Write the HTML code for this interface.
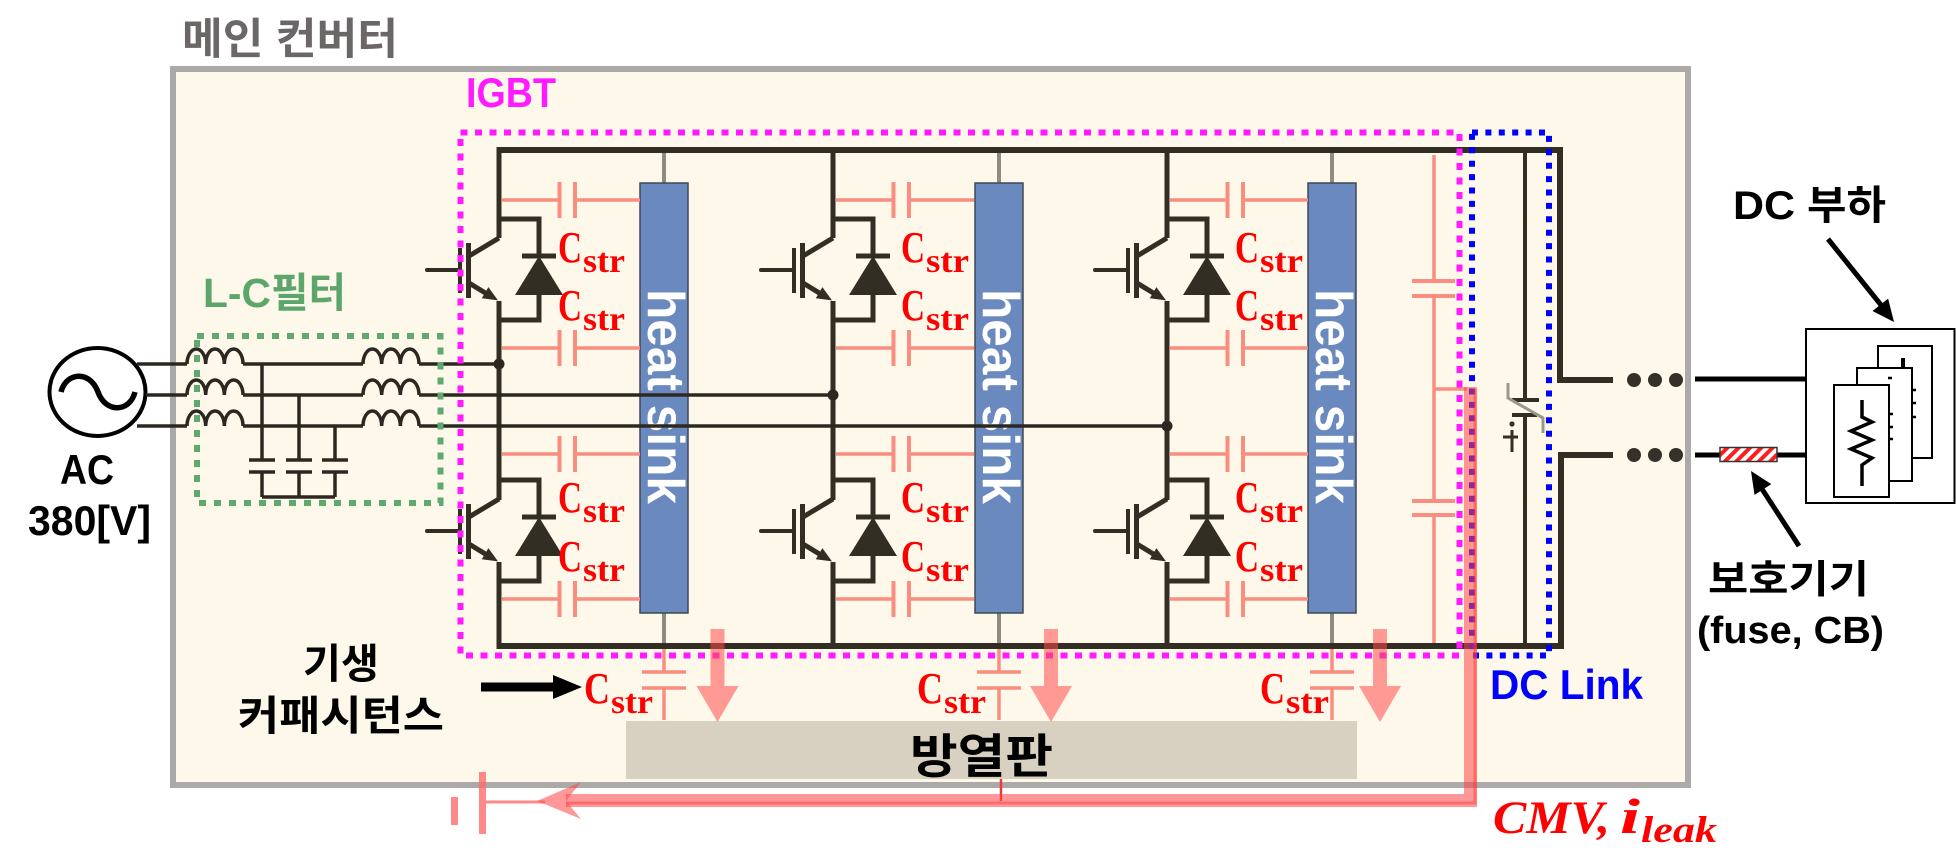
<!DOCTYPE html>
<html><head><meta charset="utf-8"><style>
html,body{margin:0;padding:0;background:#fff;}
svg{display:block;}
.k{font-family:"Liberation Sans","Noto Sans CJK KR",sans-serif;font-weight:bold;}
.s{font-family:"Liberation Serif",serif;font-weight:bold;fill:#ff0000;}
</style></head><body>
<svg width="1956" height="856" viewBox="0 0 1956 856" xmlns="http://www.w3.org/2000/svg">
<defs>
<pattern id="hatch" patternUnits="userSpaceOnUse" width="8" height="8" patternTransform="rotate(45)">
<rect width="8" height="8" fill="#fff"/><rect width="4" height="8" fill="#ff1e1e"/>
</pattern>
<g id="igbt">
  <path d="M0,219 H40 V256 M40,295 V320 H0" stroke="#332e24" stroke-width="5" fill="none"/>
  <path d="M0,238 L-30,256 M-30,283 L-12,294" stroke="#332e24" stroke-width="5" fill="none"/>
  <path d="M-30.5,243 V298" stroke="#332e24" stroke-width="5"/>
  <path d="M-39,248 V293" stroke="#332e24" stroke-width="4"/>
  <path d="M-72,270 H-39" stroke="#332e24" stroke-width="4" stroke-linecap="round"/>
  <path d="M23,256 H57" stroke="#332e24" stroke-width="5"/>
  <polygon points="40,256 16,295 64,295" fill="#332e24"/>
  <polygon points="-1,300.4 -17.2,298.3 -10.6,287.1" fill="#332e24"/>
</g>
<g id="caps" fill="none" stroke="#f98e80">
  <path d="M3,200 H59 M78,200 H141 M3,348 H59 M78,348 H141 M3,454 H59 M78,454 H141 M3,599 H59 M78,599 H141" stroke-width="3.5"/>
  <path d="M60.5,182 V218 M76,182 V218 M60.5,330 V366 M76,330 V366 M60.5,436 V472 M76,436 V472 M60.5,581 V617 M76,581 V617" stroke-width="4"/>
</g>
<g id="hs">
  <path d="M165,153 V183 M165,613 V643" stroke="#8e8b80" stroke-width="4"/>
  <rect x="141" y="183" width="48" height="430" fill="#6a8abf" stroke="#404855" stroke-width="1.5"/>
  <path d="M165,649 V672 M143,672 H187 M143,688 H187 M165,688 V720" stroke="#f98e80" stroke-width="3.5" fill="none"/>
</g>
<g id="leg">
  <path d="M0,150 V238 M0,301 V500 M0,562 V646" stroke="#332e24" stroke-width="5" fill="none"/>
  <use href="#igbt"/>
  <use href="#igbt" transform="translate(0,261)"/>
</g>
</defs>

<rect width="1956" height="856" fill="#fff"/>

<!-- title -->
<text class="k" x="182" y="54" font-size="43" fill="#6b6767" textLength="216" lengthAdjust="spacingAndGlyphs">메인 컨버터</text>

<!-- outer box -->
<rect x="173" y="69" width="1515" height="716" fill="#fdf8ea" stroke="#aca9a9" stroke-width="6"/>

<!-- heat spreader plate -->
<rect x="626" y="721" width="731" height="58" fill="#d8d1c1"/>
<text class="k" x="910" y="773" font-size="47" fill="#000" textLength="143" lengthAdjust="spacingAndGlyphs">방열판</text>

<!-- heat sinks -->
<use href="#hs" transform="translate(499,0)"/>
<use href="#hs" transform="translate(834,0)"/>
<use href="#hs" transform="translate(1167,0)"/>
<text transform="translate(648,289) rotate(90)" font-family="Liberation Sans,sans-serif" font-weight="bold" font-size="52" fill="#fff" textLength="215" lengthAdjust="spacingAndGlyphs">heat sink</text>
<text transform="translate(983,289) rotate(90)" font-family="Liberation Sans,sans-serif" font-weight="bold" font-size="52" fill="#fff" textLength="215" lengthAdjust="spacingAndGlyphs">heat sink</text>
<text transform="translate(1316,289) rotate(90)" font-family="Liberation Sans,sans-serif" font-weight="bold" font-size="52" fill="#fff" textLength="215" lengthAdjust="spacingAndGlyphs">heat sink</text>

<!-- parasitic caps per leg -->
<use href="#caps" transform="translate(499,0)"/>
<use href="#caps" transform="translate(833,0)"/>
<use href="#caps" transform="translate(1167,0)"/>

<!-- DC side salmon caps -->
<g fill="none" stroke="#f98e80">
  <path d="M1434,155 V281 M1434,296 V501 M1434,515 V643 M1434,389 H1467" stroke-width="3.5"/>
  <path d="M1412,281 H1455 M1412,296 H1455 M1412,501 H1455 M1412,515 H1455" stroke-width="4"/>
</g>

<!-- buses -->
<path d="M496.5,150 H1560 V380 H1613" stroke="#332e24" stroke-width="6" fill="none"/>
<path d="M496.5,646 H1561 V455 H1613" stroke="#332e24" stroke-width="6" fill="none"/>

<!-- legs -->
<use href="#leg" transform="translate(499,0)"/>
<use href="#leg" transform="translate(833,0)"/>
<use href="#leg" transform="translate(1167,0)"/>

<!-- DC link capacitor -->
<path d="M1525,150 V400 M1525,415 V646" stroke="#332e24" stroke-width="4" fill="none"/>
<path d="M1512,400 H1539 M1512,415 H1537" stroke="#332e24" stroke-width="4"/>
<path d="M1508,383 V398 L1543,418 V433" stroke="#9a978f" stroke-width="3" fill="none"/>
<circle cx="1512" cy="424" r="2.6" fill="#332e24"/>
<path d="M1512,430 V452 M1503,437 H1518" stroke="#332e24" stroke-width="3"/>

<!-- AC source -->
<ellipse cx="97.5" cy="392" rx="48" ry="44" fill="#fff" stroke="#000" stroke-width="4"/>
<path d="M61,392 C66,372 90,370 98,392 C106,414 130,412 135,392" stroke="#000" stroke-width="5.5" fill="none"/>

<!-- phase lines and filter -->
<g stroke="#2c2821" stroke-width="3.5" fill="none">
  <path d="M137,364 H187 M243,364 H363 M419,364 H499"/>
  <path d="M146,395 H187 M243,395 H363 M419,395 H833"/>
  <path d="M137,426 H187 M243,426 H363 M419,426 H1167"/>
  <path d="M187,364 a9.33,15 0 0 1 18.67,0 a9.33,15 0 0 1 18.67,0 a9.33,15 0 0 1 18.67,0"/>
  <path d="M187,395 a9.33,15 0 0 1 18.67,0 a9.33,15 0 0 1 18.67,0 a9.33,15 0 0 1 18.67,0"/>
  <path d="M187,426 a9.33,15 0 0 1 18.67,0 a9.33,15 0 0 1 18.67,0 a9.33,15 0 0 1 18.67,0"/>
  <path d="M363,364 a9.33,15 0 0 1 18.67,0 a9.33,15 0 0 1 18.67,0 a9.33,15 0 0 1 18.67,0"/>
  <path d="M363,395 a9.33,15 0 0 1 18.67,0 a9.33,15 0 0 1 18.67,0 a9.33,15 0 0 1 18.67,0"/>
  <path d="M363,426 a9.33,15 0 0 1 18.67,0 a9.33,15 0 0 1 18.67,0 a9.33,15 0 0 1 18.67,0"/>
  <path d="M262,364 V460 M299,395 V460 M335,426 V460 M262,472 V497 M299,472 V497 M335,472 V497 M262,497 H335"/>
  <path d="M249,460 H275 M286,460 H312 M322,460 H348 M249,472 H275 M286,472 H312 M322,472 H348"/>
</g>
<circle cx="499" cy="364" r="5.5" fill="#2c2821"/>
<circle cx="833" cy="395" r="5.5" fill="#2c2821"/>
<circle cx="1167" cy="426" r="5.5" fill="#2c2821"/>

<!-- Cstr labels -->
<g class="s">
  <text x="558" y="262" font-size="44" textLength="24" lengthAdjust="spacingAndGlyphs">C</text><text x="583" y="272" font-size="34" textLength="42" lengthAdjust="spacingAndGlyphs">str</text>
  <text x="558" y="320" font-size="44" textLength="24" lengthAdjust="spacingAndGlyphs">C</text><text x="583" y="330" font-size="34" textLength="42" lengthAdjust="spacingAndGlyphs">str</text>
  <text x="558" y="512" font-size="44" textLength="24" lengthAdjust="spacingAndGlyphs">C</text><text x="583" y="522" font-size="34" textLength="42" lengthAdjust="spacingAndGlyphs">str</text>
  <text x="558" y="571" font-size="44" textLength="24" lengthAdjust="spacingAndGlyphs">C</text><text x="583" y="581" font-size="34" textLength="42" lengthAdjust="spacingAndGlyphs">str</text>

  <text x="901" y="262" font-size="44" textLength="24" lengthAdjust="spacingAndGlyphs">C</text><text x="926" y="272" font-size="34" textLength="43" lengthAdjust="spacingAndGlyphs">str</text>
  <text x="901" y="320" font-size="44" textLength="24" lengthAdjust="spacingAndGlyphs">C</text><text x="926" y="330" font-size="34" textLength="43" lengthAdjust="spacingAndGlyphs">str</text>
  <text x="901" y="512" font-size="44" textLength="24" lengthAdjust="spacingAndGlyphs">C</text><text x="926" y="522" font-size="34" textLength="43" lengthAdjust="spacingAndGlyphs">str</text>
  <text x="901" y="571" font-size="44" textLength="24" lengthAdjust="spacingAndGlyphs">C</text><text x="926" y="581" font-size="34" textLength="43" lengthAdjust="spacingAndGlyphs">str</text>

  <text x="1235" y="262" font-size="44" textLength="24" lengthAdjust="spacingAndGlyphs">C</text><text x="1260" y="272" font-size="34" textLength="43" lengthAdjust="spacingAndGlyphs">str</text>
  <text x="1235" y="320" font-size="44" textLength="24" lengthAdjust="spacingAndGlyphs">C</text><text x="1260" y="330" font-size="34" textLength="43" lengthAdjust="spacingAndGlyphs">str</text>
  <text x="1235" y="512" font-size="44" textLength="24" lengthAdjust="spacingAndGlyphs">C</text><text x="1260" y="522" font-size="34" textLength="43" lengthAdjust="spacingAndGlyphs">str</text>
  <text x="1235" y="571" font-size="44" textLength="24" lengthAdjust="spacingAndGlyphs">C</text><text x="1260" y="581" font-size="34" textLength="43" lengthAdjust="spacingAndGlyphs">str</text>

  <text x="584" y="703" font-size="44" textLength="26" lengthAdjust="spacingAndGlyphs">C</text><text x="611" y="713" font-size="34" textLength="42" lengthAdjust="spacingAndGlyphs">str</text>
  <text x="917" y="703" font-size="44" textLength="26" lengthAdjust="spacingAndGlyphs">C</text><text x="944" y="713" font-size="34" textLength="42" lengthAdjust="spacingAndGlyphs">str</text>
  <text x="1260" y="703" font-size="44" textLength="25" lengthAdjust="spacingAndGlyphs">C</text><text x="1286" y="713" font-size="34" textLength="43" lengthAdjust="spacingAndGlyphs">str</text>
</g>

<!-- dotted boxes -->
<rect x="197" y="336" width="243.5" height="167" fill="none" stroke="#5fa870" stroke-width="6" stroke-dasharray="7 8"/>
<rect x="460.5" y="132.5" width="999" height="523" fill="none" stroke="#ff1aff" stroke-width="6" stroke-dasharray="7 7.5"/>
<rect x="1472" y="132.5" width="77" height="523" fill="none" stroke="#0000ff" stroke-width="6" stroke-dasharray="6 7.4"/>

<!-- labels -->
<text class="k" x="466" y="107" font-size="42" fill="#ff1aff" textLength="90" lengthAdjust="spacingAndGlyphs">IGBT</text>
<text class="k" x="203" y="307" font-size="41" fill="#5ca66c" textLength="143" lengthAdjust="spacingAndGlyphs">L-C필터</text>
<text class="k" x="60" y="484" font-size="42" fill="#000" textLength="54" lengthAdjust="spacingAndGlyphs">AC</text>
<text class="k" x="28" y="535" font-size="42" fill="#000" textLength="123" lengthAdjust="spacingAndGlyphs">380[V]</text>
<text class="k" x="303" y="678" font-size="41" fill="#000" textLength="76" lengthAdjust="spacingAndGlyphs">기생</text>
<text class="k" x="238" y="730" font-size="41" fill="#000" textLength="206" lengthAdjust="spacingAndGlyphs">커패시턴스</text>
<text class="k" x="1490" y="699" font-size="42" fill="#0000ff" textLength="153" lengthAdjust="spacingAndGlyphs">DC Link</text>

<!-- black arrow to Cstr -->
<path d="M481,687 H556" stroke="#000" stroke-width="9"/>
<polygon points="553,675 582,687 553,699" fill="#000"/>

<!-- heat flow arrows -->
<g fill="#ff4a4a" fill-opacity="0.55">
  <polygon points="710.5,629 724.5,629 724.5,686 738.5,686 717.5,722 696.5,686 710.5,686"/>
  <polygon points="1044,629 1058,629 1058,686 1072,686 1051,722 1030,686 1044,686"/>
  <polygon points="1373,629 1387,629 1387,686 1401,686 1380,722 1359,686 1373,686"/>
</g>

<!-- ground -->
<g stroke="#ff6a6a" stroke-opacity="0.8" fill="none">
  <path d="M454.5,797 V825 M482.5,772 V834" stroke-width="7"/>
  <path d="M486,802 H545" stroke-width="3"/>
</g>
<path d="M1001,779 V801" stroke="#f03838" stroke-width="2.5"/>

<!-- CMV leakage path -->
<path d="M1470.5,387 V800.5 H566" stroke="#ff4545" stroke-opacity="0.55" stroke-width="13" fill="none"/>
<path d="M1475,389 V803 H566" stroke="#ff3030" stroke-opacity="0.45" stroke-width="3" fill="none"/>
<polygon points="537,801 581,782 566,801 581,819" fill="#ff4545" fill-opacity="0.55"/>

<!-- output dots -->
<g fill="#35302a">
  <circle cx="1634" cy="380" r="7"/><circle cx="1655" cy="380" r="7"/><circle cx="1676" cy="380" r="7"/>
  <circle cx="1634" cy="455" r="7"/><circle cx="1655" cy="455" r="7"/><circle cx="1676" cy="455" r="7"/>
</g>

<!-- external wiring and load -->
<path d="M1695,379 H1806 M1695,455 H1720 M1777,455 H1806" stroke="#000" stroke-width="5"/>
<rect x="1720" y="447.5" width="57" height="14" fill="url(#hatch)" stroke="#333" stroke-width="1.5"/>
<rect x="1806" y="329" width="148.5" height="174" fill="#fff" stroke="#000" stroke-width="2"/>
<rect x="1878" y="346" width="54" height="112" fill="#fff" stroke="#000" stroke-width="2"/>
<path d="M1903,358 V368" stroke="#000" stroke-width="4"/>
<rect x="1857" y="368" width="55" height="113" fill="#fff" stroke="#000" stroke-width="2"/>
<path d="M1912,390 H1916 M1912,403 H1916 M1912,417 H1916 M1888,378 H1892" stroke="#000" stroke-width="2.5"/>
<rect x="1834" y="385" width="55" height="112" fill="#fff" stroke="#000" stroke-width="2"/>
<path d="M1889,414 H1893 M1889,427 H1893 M1889,439 H1893" stroke="#000" stroke-width="2.5"/>
<path d="M1862,400 V417 L1872,422 L1851,431 L1872,440 L1851,449 L1872,458 L1862,465 V486" stroke="#000" stroke-width="3.5" fill="none" stroke-linejoin="miter"/>

<!-- DC 부하 -->
<text class="k" x="1733" y="219" font-size="40" fill="#000" textLength="153" lengthAdjust="spacingAndGlyphs">DC 부하</text>
<path d="M1828,239 L1881,305" stroke="#000" stroke-width="5"/>
<polygon points="1894,322 1872.5,311 1888.1,298.6" fill="#000"/>

<!-- 보호기기 -->
<path d="M1799,546 L1762,489" stroke="#000" stroke-width="5"/>
<polygon points="1751,471 1771.3,484.1 1754.5,494.9" fill="#000"/>
<text class="k" x="1708" y="593" font-size="39" fill="#000" textLength="161" lengthAdjust="spacingAndGlyphs">보호기기</text>
<text class="k" x="1697" y="643" font-size="38" fill="#000" textLength="187" lengthAdjust="spacingAndGlyphs">(fuse, CB)</text>

<!-- CMV label -->
<text x="1493" y="833" font-family="Liberation Serif,serif" font-style="italic" font-weight="bold" font-size="47" fill="#ff0000" textLength="117" lengthAdjust="spacingAndGlyphs">CMV,</text>
<text x="1620" y="833" font-family="Liberation Serif,serif" font-style="italic" font-weight="bold" font-size="50" fill="#ff0000" textLength="20" lengthAdjust="spacingAndGlyphs">i</text>
<text x="1641" y="842" font-family="Liberation Serif,serif" font-style="italic" font-weight="bold" font-size="37" fill="#ff0000" textLength="76" lengthAdjust="spacingAndGlyphs">leak</text>
</svg>
</body></html>
